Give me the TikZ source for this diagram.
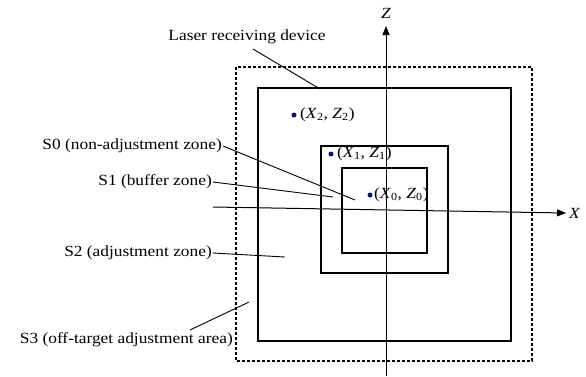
\documentclass[tikz,border=0pt]{standalone}
\usepackage{fontspec}
\setmainfont[FakeStretch=1.12]{Liberation Serif}
\usetikzlibrary{arrows.meta}
\definecolor{dotblue}{RGB}{10,20,110}
\newcommand{\pxz}[2]{(\textit{X}\textsubscript{#1}, \textit{Z}\textsubscript{#2})}
\begin{document}
\begin{tikzpicture}[x=1pt,y=-1pt,
  lbl/.style={font=\fontsize{15.5}{17}\selectfont, inner sep=1pt},
  zone/.style={line width=1.6pt},
  offzone/.style={line width=1.6pt, dash pattern=on 3pt off 2pt},
  leader/.style={line width=0.9pt},
  axisline/.style={line width=1pt, -{Triangle[length=9pt,width=7pt]}},
  pt/.style={circle, fill=dotblue, inner sep=0pt, minimum size=5pt}
]
\useasboundingbox (0,0) rectangle (586,376);
% zones
\draw[offzone] (236,67) rectangle (532,361);
\draw[zone] (258,88) rectangle (511,341);
\draw[zone] (321,146) rectangle (448,273);
\draw[zone] (342,168) rectangle (427,253);
% axes
\coordinate (zb) at (386,376);
\coordinate (zt) at (386,26);
\draw[axisline] (zb) -- (zt);
\node[lbl] (zl) at (386,13) {\textit{Z}};
\coordinate (xs) at (213,207);
\coordinate (xe) at (566,213);
\draw[axisline] (xs) -- (xe);
\node[lbl, anchor=west] (xl) at (568,213) {\textit{X}};
% points
\node[pt] (p2) at (294,115) {};
\node[lbl, anchor=west] (t2) at (299,115) {\pxz{2}{2}};
\node[pt] (p1) at (331,154) {};
\node[lbl, anchor=west] (t1) at (336,154) {\pxz{1}{1}};
\node[pt] (p0) at (370,195) {};
\node[lbl, anchor=west] (t0) at (373,195) {\pxz{0}{0}};
% labels
\node[lbl] (dev) at (247,37) {Laser receiving device};
\coordinate (devs) at (253,49);
\coordinate (deve) at (320,89);
\draw[leader] (devs) -- (deve);
\node[lbl, anchor=east] (s0) at (223,146) {S0 (non-adjustment zone)};
\coordinate (s0e) at (355,200);
\draw[leader] (s0.east) -- (s0e);
\node[lbl, anchor=east] (s1) at (213,182) {S1 (buffer zone)};
\coordinate (s1e) at (333,197);
\draw[leader] (s1.east) -- (s1e);
\node[lbl, anchor=east] (s2) at (213,253) {S2 (adjustment zone)};
\coordinate (s2e) at (285,257);
\draw[leader] (s2.east) -- (s2e);
\node[lbl, anchor=east] (s3) at (234,340) {S3 (off-target adjustment area)};
\coordinate (s3s) at (190,330);
\coordinate (s3e) at (249,302);
\draw[leader] (s3s) -- (s3e);
\end{tikzpicture}
\end{document}
